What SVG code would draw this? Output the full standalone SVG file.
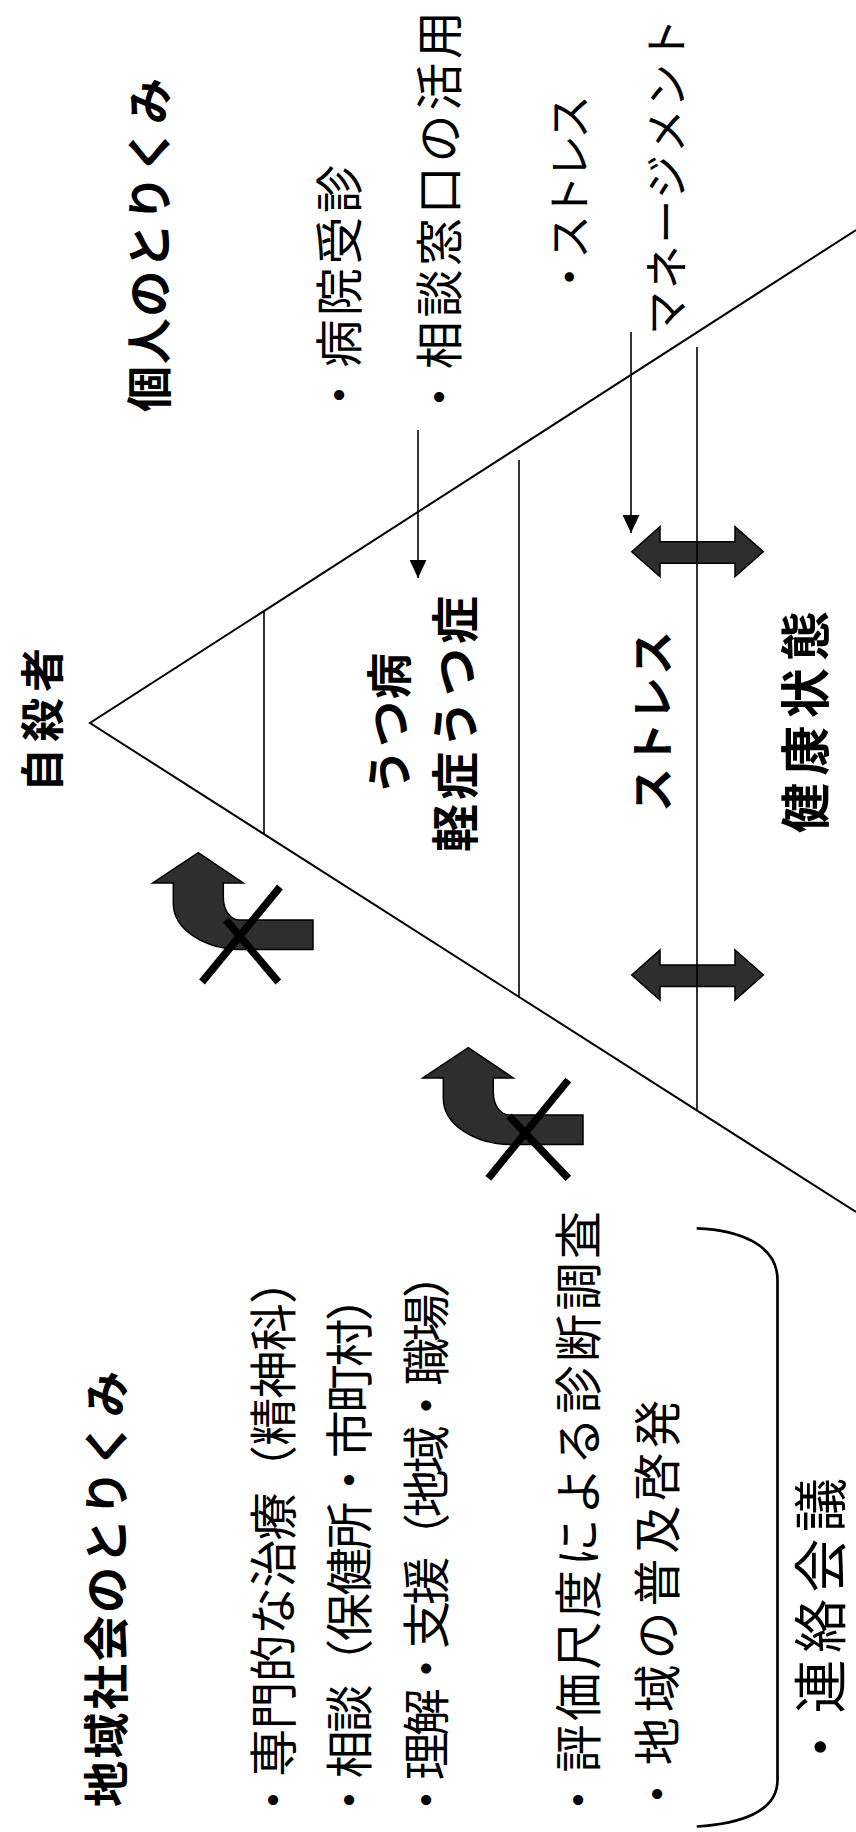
<svg xmlns="http://www.w3.org/2000/svg" width="856" height="1832" viewBox="0 0 856 1832">
<style>
text{font-family:"Noto Sans CJK JP","Noto Sans CJK SC",sans-serif;fill:#000;dominant-baseline:central}
.b{font-weight:700}
.ln{stroke:#000;stroke-width:2;fill:none}
.thin{stroke:#000;stroke-width:1.6;fill:none}
.big{fill:#2e2e2e;stroke:#000;stroke-width:1.5;stroke-linejoin:miter}
.x{stroke:#000;stroke-width:7.5;fill:none}
</style>
<defs>
<marker id="ah" viewBox="0 0 18 17" refX="18" refY="8.5" markerWidth="18" markerHeight="17" markerUnits="userSpaceOnUse" orient="auto">
<path d="M0,0 L18,8.5 L0,17 Z" fill="#000"/>
</marker>
<path id="dbl" d="M631.7,551.7 L660,526.7 L660,541.7 L735,541.7 L735,526.7 L763.3,551.7 L735,576.7 L735,563.3 L660,563.3 L660,576.7 Z"/>
<path id="curv" d="M313,920 L240,920 C230,920 223.3,910 223.3,897 L223.3,883 L243.3,883 L198.3,852.7 L152.7,883 L173.3,883 L173.3,903 C173.3,930 205,949 240,949.5 L313,949.5 Z"/>
</defs>

<g id="pyramid">
<path class="ln" d="M856,230 L90,723 L856,1212"/>
<line class="thin" x1="264" y1="611" x2="264" y2="834"/>
<line class="thin" x1="519" y1="460" x2="519" y2="997"/>
</g>

<g id="stress-arrows">
<use href="#dbl" class="big"/>
<use href="#dbl" class="big" transform="translate(0,423.3)"/>
</g>
<g id="level-line">
<line class="thin" x1="697" y1="347" x2="697" y2="1111"/>
</g>

<g id="connectors">
<line class="thin" x1="418" y1="430" x2="418" y2="578" marker-end="url(#ah)"/>
<line class="thin" x1="631" y1="332" x2="631" y2="533" marker-end="url(#ah)"/>
</g>

<g id="blocked-arrow-1">
<use href="#curv" class="big"/>
<line class="x" x1="280" y1="887" x2="202" y2="982"/>
<line class="x" x1="226" y1="920" x2="278.3" y2="982"/>
</g>
<g id="blocked-arrow-2">
<use href="#curv" class="big" transform="translate(270,195)"/>
<line class="x" x1="568.3" y1="1080" x2="488.3" y2="1178.3"/>
<line class="x" x1="509" y1="1116" x2="568.3" y2="1178.3"/>
</g>

<g id="bracket">
<path d="M696.7,1228.3 C740,1230 777.5,1245 777.5,1280 L777.5,1780 C777.5,1812 740,1824 696.7,1826.5" fill="none" stroke="#000" stroke-width="2.7"/>
</g>

<g id="individual">
<text class="b" font-size="46" transform="translate(146,412) rotate(-90)" textLength="334" lengthAdjust="spacing">個人のとりくみ</text>
<text font-size="48" transform="translate(336,419) rotate(-90)" textLength="254" lengthAdjust="spacing">・病院受診</text>
<text font-size="48" transform="translate(436,421) rotate(-90)" textLength="410" lengthAdjust="spacing">・相談窓口の活用</text>
<text font-size="44" transform="translate(567,299) rotate(-90)" textLength="204" lengthAdjust="spacing">・ストレス</text>
<text font-size="44" transform="translate(664,335) rotate(-90)" textLength="317" lengthAdjust="spacing">マネージメント</text>
</g>

<g id="labels">
<text class="b" font-size="44" transform="translate(40,792) rotate(-90)" textLength="144" lengthAdjust="spacing">自殺者</text>
<text class="b" font-size="46" transform="translate(386,795) rotate(-90)" textLength="142" lengthAdjust="spacing">うつ病</text>
<text class="b" font-size="48" transform="translate(452,852) rotate(-90)" textLength="256" lengthAdjust="spacing">軽症うつ症</text>
<text class="b" font-size="44" transform="translate(650,812) rotate(-90)" textLength="181" lengthAdjust="spacing">ストレス</text>
<text class="b" font-size="50" transform="translate(802,833) rotate(-90)" textLength="222" lengthAdjust="spacing">健康状態</text>
</g>

<g id="community">
<text class="b" font-size="46" transform="translate(103,1807) rotate(-90)" textLength="436" lengthAdjust="spacing">地域社会のとりくみ</text>
<text font-size="48" transform="translate(270,1824) rotate(-90)" textLength="568" lengthAdjust="spacing">・専門的な治療（精神科）</text>
<text font-size="48" transform="translate(346,1824) rotate(-90)" textLength="551" lengthAdjust="spacing">・相談（保健所・市町村）</text>
<text font-size="48" transform="translate(423,1824) rotate(-90)" textLength="574" lengthAdjust="spacing">・理解・支援（地域・職場）</text>
<text font-size="48" transform="translate(575,1824) rotate(-90)" textLength="613" lengthAdjust="spacing">・評価尺度による診断調査</text>
<text font-size="48" transform="translate(654,1818) rotate(-90)" textLength="418" lengthAdjust="spacing">・地域の普及啓発</text>
<text font-size="54" transform="translate(817,1774) rotate(-90)" textLength="296" lengthAdjust="spacing">・連絡会議</text>
</g>
</svg>
